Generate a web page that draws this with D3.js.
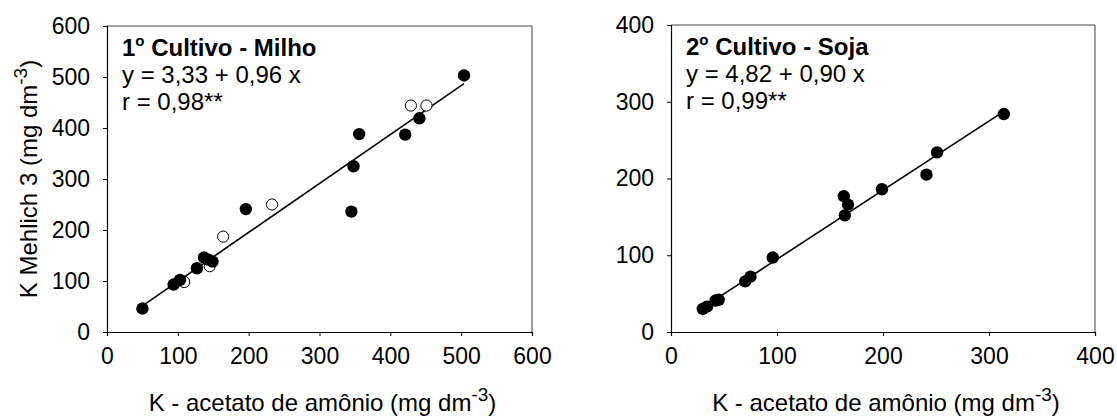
<!DOCTYPE html>
<html>
<head>
<meta charset="utf-8">
<script src="https://cdn.jsdelivr.net/npm/d3@7"></script>
<style>
  body { margin: 0; background: #fff; }
  svg { display: block; font-family: "Liberation Sans", Arial, sans-serif; }
</style>
</head>
<body>
<svg id="chart" width="1117" height="419"></svg>
<script>
// ---- Data ----
// Left panel: 1º Cultivo - Milho
const milhoFilledX = [50, 94, 103, 127, 137, 143, 149, 196, 345, 348, 356, 421, 441, 504];
const milhoFilledY = [46, 93, 102, 125, 146, 142, 138, 241, 236, 325, 388, 387, 419, 503];
const milhoOpenX = [109, 145, 164, 233, 429, 451];
const milhoOpenY = [98, 129, 187, 250, 444, 444];
const milhoFit = { a: 3.33, b: 0.96, xmin: 50, xmax: 504 };
const milhoTicks = [0, 100, 200, 300, 400, 500, 600];

// Right panel: 2º Cultivo - Soja
const sojaX = [30, 34, 42, 45, 70, 75, 96, 163, 167, 164, 199, 241, 251, 314];
const sojaY = [30, 33, 41, 42, 66, 72, 97, 177, 166, 152, 186, 205, 234, 284];
const sojaFit = { a: 4.82, b: 0.90, xmin: 30, xmax: 314 };
const sojaTicks = [0, 100, 200, 300, 400];

const titles = ["Cultivo - Milho", "Cultivo - Soja"];
const titleNums = ["1", "2"];
const equations = ["y = 3,33 + 0,96 x", "y = 4,82 + 0,90 x"];
const rValues = ["r = 0,98**", "r = 0,99**"];
const xTitle = "K - acetato de amônio (mg dm";
const yTitle = "K Mehlich 3 (mg dm";

const svg = d3.select("#chart");

function panel(cfg) {
  const x = d3.scaleLinear().domain([0, cfg.max]).range([cfg.left, cfg.right]);
  const y = d3.scaleLinear().domain([0, cfg.max]).range([cfg.bottom, cfg.top]);
  const g = svg.append("g");

  // frame (top + right)
  g.append("line").attr("x1", cfg.left).attr("x2", cfg.right).attr("y1", cfg.top).attr("y2", cfg.top)
    .attr("stroke", "#444").attr("stroke-width", 1);
  g.append("line").attr("x1", cfg.right).attr("x2", cfg.right).attr("y1", cfg.top).attr("y2", cfg.bottom)
    .attr("stroke", "#888").attr("stroke-width", 1.6);

  const xAxis = g.append("g").attr("transform", `translate(0,${cfg.bottom})`)
    .call(d3.axisBottom(x).tickValues(cfg.ticks).tickSize(4).tickPadding(12).tickFormat(d3.format("d")));
  const yAxis = g.append("g").attr("transform", `translate(${cfg.left},0)`)
    .call(d3.axisLeft(y).tickValues(cfg.ticks).tickSize(4).tickPadding(13).tickFormat(d3.format("d")));
  [xAxis, yAxis].forEach(a => {
    a.select(".domain").attr("stroke", "#000").attr("stroke-width", 1.2);
    a.selectAll(".tick line").attr("stroke", "#000");
    a.selectAll(".tick text").attr("fill", "#000").style("font-size", "23px")
      .style("font-family", "'Liberation Sans', Arial, sans-serif");
  });
  xAxis.selectAll(".tick text").attr("dy", "0.71em");

  // regression line
  const fit = cfg.fit;
  const line = d3.line().x(d => x(d)).y(d => y(fit.a + fit.b * d));
  g.append("path").datum([fit.xmin, fit.xmax]).attr("d", line)
    .attr("fill", "none").attr("stroke", "#000").attr("stroke-width", 1.6);

  // open points
  if (cfg.openX) {
    g.selectAll(".open").data(cfg.openX.map((v, i) => [v, cfg.openY[i]])).enter()
      .append("circle").attr("cx", d => x(d[0])).attr("cy", d => y(d[1])).attr("r", 5.6)
      .attr("fill", "#fff").attr("stroke", "#000").attr("stroke-width", 1);
  }
  // filled points
  g.selectAll(".filled").data(cfg.filledX.map((v, i) => [v, cfg.filledY[i]])).enter()
    .append("circle").attr("cx", d => x(d[0])).attr("cy", d => y(d[1])).attr("r", 6.2)
    .attr("fill", "#000");

  // annotations
  const tx = cfg.left + 15;
  const t = g.append("text").attr("x", tx).attr("y", cfg.top + 30)
    .style("font-size", "24px").style("font-weight", "bold").attr("fill", "#000");
  t.append("tspan").text(cfg.num);
  t.append("tspan").text("o").style("font-size", "15px").attr("dy", -10);
  t.append("tspan").text(" " + cfg.title).attr("dy", 10);
  g.append("text").attr("x", tx).attr("y", cfg.top + 57).style("font-size", "24px").text(cfg.eq);
  g.append("text").attr("x", tx).attr("y", cfg.top + 84).style("font-size", "24px").text(cfg.r);

  // x title
  const xt = g.append("text").attr("x", (cfg.left + cfg.right) / 2 + 3).attr("y", 410.5)
    .attr("text-anchor", "middle").style("font-size", "24px");
  xt.append("tspan").text(xTitle);
  xt.append("tspan").text("-3").style("font-size", "19px").attr("dy", -10);
  xt.append("tspan").text(")").attr("dy", 10);

  if (cfg.yTitle) {
    const yt = g.append("text").attr("transform", `translate(37,${(cfg.top + cfg.bottom) / 2}) rotate(-90)`)
      .attr("text-anchor", "middle").style("font-size", "24px");
    yt.append("tspan").text(yTitle);
    yt.append("tspan").text("-3").style("font-size", "19px").attr("dy", -10);
    yt.append("tspan").text(")").attr("dy", 10);
  }
}

panel({ left: 107, right: 532, top: 26, bottom: 332, max: 600, ticks: milhoTicks,
  filledX: milhoFilledX, filledY: milhoFilledY, openX: milhoOpenX, openY: milhoOpenY,
  fit: milhoFit, num: titleNums[0], title: titles[0], eq: equations[0], r: rValues[0], yTitle: true });

panel({ left: 671, right: 1095, top: 25, bottom: 332, max: 400, ticks: sojaTicks,
  filledX: sojaX, filledY: sojaY,
  fit: sojaFit, num: titleNums[1], title: titles[1], eq: equations[1], r: rValues[1], yTitle: false });
</script>
</body>
</html>
